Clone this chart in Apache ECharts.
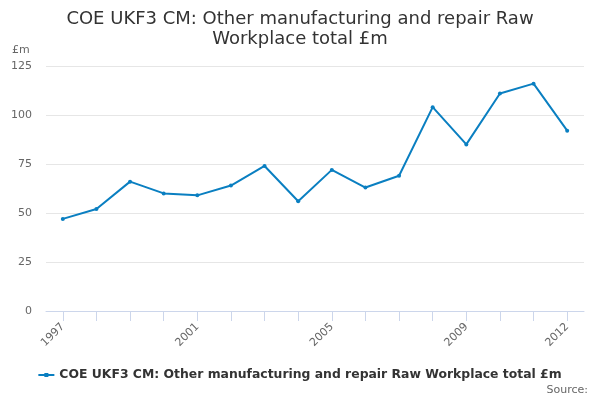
<!DOCTYPE html>
<html><head><meta charset="utf-8">
<script src="https://cdn.jsdelivr.net/npm/echarts@6/dist/echarts.min.js"></script>
<style>html,body{margin:0;padding:0;background:#fff}#c{width:600px;height:400px}</style>
</head><body><div id="c"></div>
<script>
const years = ['1997','1998','1999','2000','2001','2002','2003','2004','2005','2006','2007','2008','2009','2010','2011','2012'];
const values = [47, 52, 66, 60, 59, 64, 74, 56, 72, 63, 69, 104, 85, 111, 116, 92];
const yTicks = [0, 25, 50, 75, 100, 125];
const seriesName = 'COE UKF3 CM: Other manufacturing and repair Raw Workplace total £m';
const shownLabels = ['1997','2001','2005','2009','2012'];
const FF = "'DejaVu Sans', sans-serif";
const chart = echarts.init(document.getElementById('c'));
chart.setOption({
  animation: false,
  textStyle: {fontFamily: FF},
  title: {
    text: 'COE UKF3 CM: Other manufacturing and repair Raw\nWorkplace total £m',
    left: 'center', top: 4,
    textStyle: {fontFamily: FF, fontSize: 18, fontWeight: 'normal', color: '#333', lineHeight: 20}
  },
  legend: {
    bottom: 14, left: 'center',
    itemWidth: 16, itemHeight: 6, itemGap: 5,
    icon: 'path://M0,2 L16,2 L16,4 L0,4 Z M6,1 L10,1 L10,5 L6,5 Z',
    textStyle: {fontFamily: FF, fontSize: 12.4, fontWeight: 'bold', color: '#333'},
    data: [seriesName]
  },
  graphic: [
    {type: 'text', left: 12, top: 45, style: {text: '£m', fill: '#666', font: "11px 'DejaVu Sans'"}},
    {type: 'text', right: 12, top: 385, style: {text: 'Source:', fill: '#666', font: "11px 'DejaVu Sans'"}}
  ],
  grid: {left: 46, right: 16, top: 66, bottom: 89},
  xAxis: {
    type: 'category', data: years, boundaryGap: true,
    axisLine: {show: true, lineStyle: {color: '#ccd6eb'}},
    axisTick: {show: true, alignWithLabel: true, interval: 0, length: 10, lineStyle: {color: '#ccd6eb'}},
    axisLabel: {
      rotate: 45, color: '#666', fontSize: 11, margin: 14, fontFamily: FF,
      interval: (i, v) => shownLabels.includes(v)
    }
  },
  yAxis: {
    type: 'value', min: 0, max: 125, interval: 25,
    axisLine: {show: false}, axisTick: {show: false},
    axisLabel: {color: '#666', fontSize: 11, margin: 14, fontFamily: FF,
      formatter: v => yTicks.includes(v) ? String(v) : ''},
    splitLine: {lineStyle: {color: '#e6e6e6'}}
  },
  series: [{
    name: seriesName, type: 'line', data: values,
    color: '#0a7fc1',
    lineStyle: {width: 2, color: '#0a7fc1'},
    symbol: 'circle', symbolSize: 4,
    itemStyle: {color: '#0a7fc1'}
  }]
});
</script></body></html>
